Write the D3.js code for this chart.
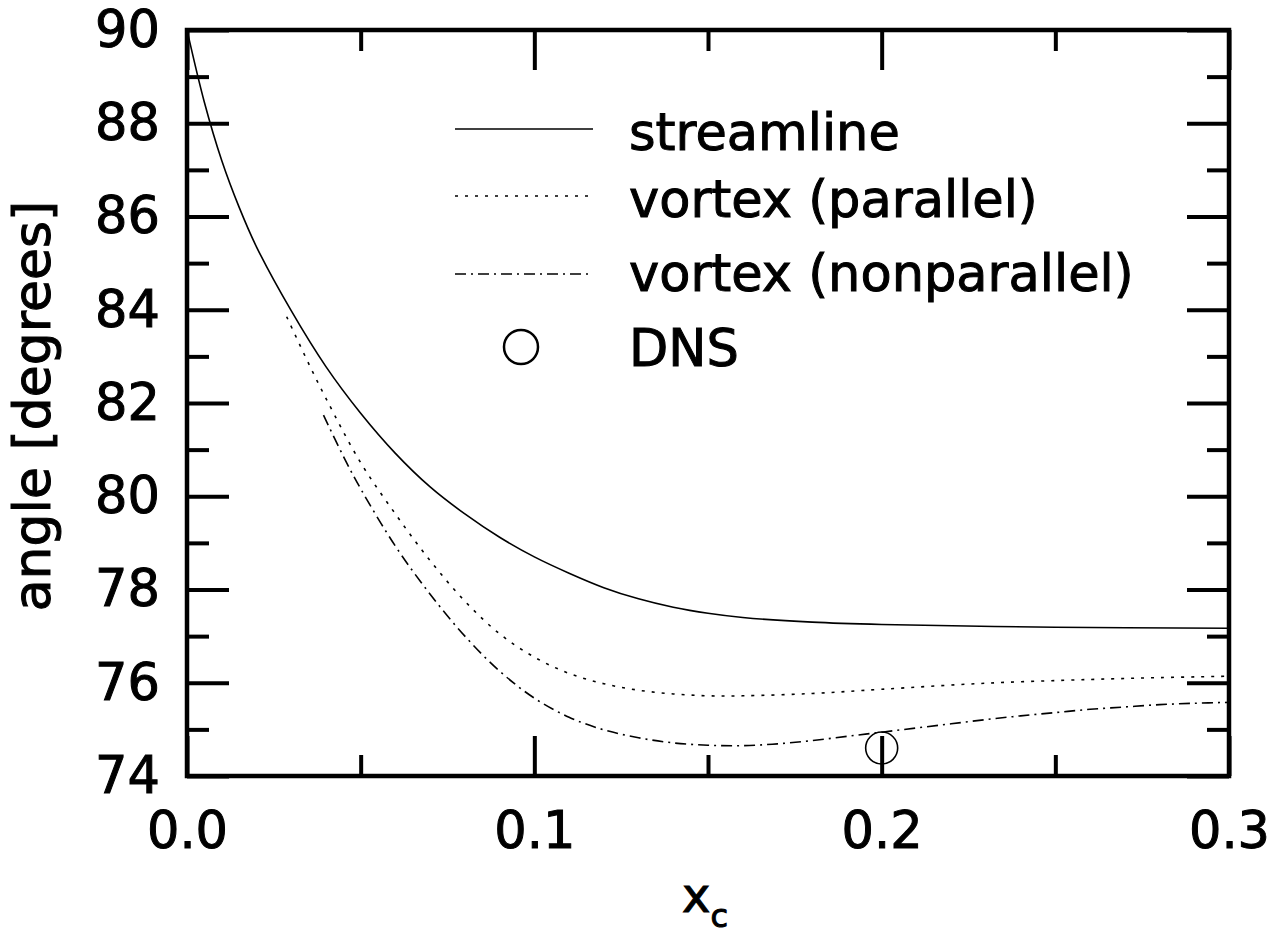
<!DOCTYPE html>
<html>
<head>
<meta charset="utf-8">
<script src="https://cdn.jsdelivr.net/npm/d3@7"></script>
<style>
  html, body { margin: 0; padding: 0; background: #fff; }
  svg { display: block; }
  text { font-family: "DejaVu Sans", sans-serif; fill: #000; stroke: #000; stroke-width: 1; }
</style>
</head>
<body>
<script>
// ---- data ----
const streamX = [0, 0.005, 0.01, 0.015, 0.02, 0.03, 0.04, 0.05, 0.06, 0.07, 0.08, 0.09, 0.10, 0.11, 0.12, 0.13, 0.14, 0.15, 0.16, 0.18, 0.20, 0.25, 0.30];
const streamY = [90, 88.45, 87.2, 86.2, 85.35, 83.98, 82.78, 81.78, 80.92, 80.20, 79.62, 79.12, 78.70, 78.35, 78.04, 77.80, 77.62, 77.49, 77.40, 77.30, 77.25, 77.19, 77.17];

const parX = [0.0287, 0.035, 0.04, 0.05, 0.06, 0.07, 0.08, 0.09, 0.10, 0.11, 0.12, 0.13, 0.14, 0.15, 0.16, 0.18, 0.20, 0.23, 0.26, 0.28, 0.30];
const parY = [83.85, 82.85, 82.1, 80.72, 79.62, 78.62, 77.75, 77.05, 76.55, 76.2, 75.98, 75.84, 75.76, 75.72, 75.72, 75.77, 75.86, 75.99, 76.07, 76.11, 76.14];

const nonparX = [0.0393, 0.045, 0.05, 0.06, 0.07, 0.08, 0.09, 0.10, 0.11, 0.12, 0.13, 0.14, 0.15, 0.16, 0.17, 0.18, 0.19, 0.20, 0.21, 0.22, 0.23, 0.24, 0.25, 0.26, 0.27, 0.28, 0.29, 0.30];
const nonparY = [81.74, 80.86, 80.16, 78.93, 77.90, 77.0, 76.25, 75.67, 75.26, 74.99, 74.82, 74.71, 74.66, 74.65, 74.69, 74.76, 74.85, 74.94, 75.03, 75.12, 75.21, 75.29, 75.36, 75.43, 75.48, 75.53, 75.56, 75.58];

const dnsX = [0.2];
const dnsY = [74.6];

const xMajorTicks = [0.0, 0.1, 0.2, 0.3];
const xMinorTicks = [0.05, 0.15, 0.25];
const yMajorTicks = [74, 76, 78, 80, 82, 84, 86, 88, 90];
const yMinorTicks = [75, 77, 79, 81, 83, 85, 87, 89];

const legendLabels = ["streamline", "vortex (parallel)", "vortex (nonparallel)", "DNS"];

// ---- layout ----
const W = 1286, H = 941;
const L = 187, T = 30, R = 1229, B = 776;

const svg = d3.select("body").append("svg").attr("width", W).attr("height", H);

const x = d3.scaleLinear().domain([0, 0.3]).range([L, R]);
const y = d3.scaleLinear().domain([74, 90]).range([B, T]);

const fmtX = d3.format(".1f");
const FS = 51;

function styleAxis(g) {
  g.select(".domain").remove();
  g.selectAll(".tick line").attr("stroke", "#000").attr("stroke-width", 4);
  g.selectAll(".tick text").attr("font-size", FS).attr("font-family", "DejaVu Sans, sans-serif").attr("fill", "#000");
}

// bottom
svg.append("g").attr("transform", `translate(0,${B})`)
  .call(d3.axisBottom(x).tickValues(xMajorTicks).tickFormat(fmtX).tickSizeInner(-40).tickSizeOuter(0).tickPadding(36))
  .call(styleAxis);
svg.append("g").attr("transform", `translate(0,${B})`)
  .call(d3.axisBottom(x).tickValues(xMinorTicks).tickFormat("").tickSizeInner(-21).tickSizeOuter(0))
  .call(styleAxis);
// top
svg.append("g").attr("transform", `translate(0,${T})`)
  .call(d3.axisTop(x).tickValues(xMajorTicks).tickFormat("").tickSizeInner(-40).tickSizeOuter(0))
  .call(styleAxis);
svg.append("g").attr("transform", `translate(0,${T})`)
  .call(d3.axisTop(x).tickValues(xMinorTicks).tickFormat("").tickSizeInner(-21).tickSizeOuter(0))
  .call(styleAxis);
// left
svg.append("g").attr("transform", `translate(${L},0)`)
  .call(d3.axisLeft(y).tickValues(yMajorTicks).tickFormat(d3.format("d")).tickSizeInner(-42).tickSizeOuter(0).tickPadding(27))
  .call(styleAxis);
svg.append("g").attr("transform", `translate(${L},0)`)
  .call(d3.axisLeft(y).tickValues(yMinorTicks).tickFormat("").tickSizeInner(-22).tickSizeOuter(0))
  .call(styleAxis);
// right
svg.append("g").attr("transform", `translate(${R},0)`)
  .call(d3.axisRight(y).tickValues(yMajorTicks).tickFormat("").tickSizeInner(-42).tickSizeOuter(0))
  .call(styleAxis);
svg.append("g").attr("transform", `translate(${R},0)`)
  .call(d3.axisRight(y).tickValues(yMinorTicks).tickFormat("").tickSizeInner(-22).tickSizeOuter(0))
  .call(styleAxis);

// frame
svg.append("rect").attr("x", L).attr("y", T).attr("width", R - L).attr("height", B - T)
  .attr("fill", "none").attr("stroke", "#000").attr("stroke-width", 4.5);

// clip
svg.append("clipPath").attr("id", "clip").append("rect")
  .attr("x", L).attr("y", T).attr("width", R - L).attr("height", B - T);

const line = d3.line().x(d => x(d[0])).y(d => y(d[1])).curve(d3.curveCatmullRom.alpha(0.5));
const plot = svg.append("g").attr("clip-path", "url(#clip)");

const series = [
  { xs: streamX, ys: streamY, dash: null },
  { xs: parX, ys: parY, dash: "3,7" },
  { xs: nonparX, ys: nonparY, dash: "11,5,2,5" }
];
series.forEach(s => {
  plot.append("path")
    .datum(s.xs.map((v, i) => [v, s.ys[i]]))
    .attr("d", line)
    .attr("fill", "none").attr("stroke", "#000").attr("stroke-width", 1.6)
    .attr("stroke-dasharray", s.dash);
});

plot.selectAll("circle.dns").data(dnsX.map((v, i) => [v, dnsY[i]])).enter()
  .append("circle").attr("class", "dns")
  .attr("cx", d => x(d[0])).attr("cy", d => y(d[1])).attr("r", 16)
  .attr("fill", "none").attr("stroke", "#000").attr("stroke-width", 1.6);

// legend
const legY = [129, 196, 274, 347];
const textBase = [150, 217, 291, 366];
const legDash = [null, "3,7", "11,5,2,5"];
for (let i = 0; i < 3; i++) {
  svg.append("line").attr("x1", 455).attr("x2", 593).attr("y1", legY[i]).attr("y2", legY[i])
    .attr("stroke", "#000").attr("stroke-width", 1.6).attr("stroke-dasharray", legDash[i]);
}
svg.append("circle").attr("cx", 521).attr("cy", legY[3]).attr("r", 17)
  .attr("fill", "none").attr("stroke", "#000").attr("stroke-width", 2.5);
legendLabels.forEach((t, i) => {
  svg.append("text").attr("x", 629).attr("y", textBase[i]).attr("font-size", FS).text(t);
});

// axis titles
const xl = svg.append("text").attr("x", 682).attr("y", 912).attr("font-size", 48);
xl.append("tspan").text("x");
xl.append("tspan").attr("font-size", 32).attr("dy", 15).text("c");

svg.append("text").attr("transform", "translate(50,406) rotate(-90)")
  .attr("text-anchor", "middle").attr("font-size", 52).text("angle [degrees]");
</script>
</body>
</html>
